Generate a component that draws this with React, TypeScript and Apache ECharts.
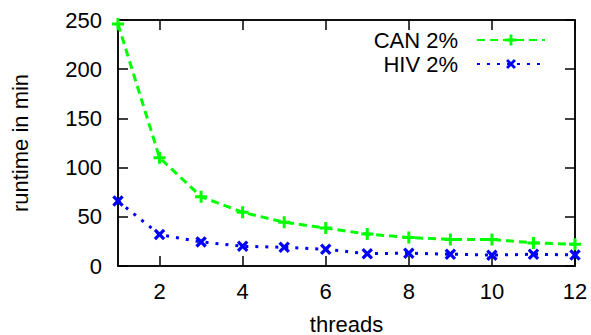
import React, { useEffect, useRef } from "react";
import * as echarts from "echarts";

const threads = ["1", "2", "3", "4", "5", "6", "7", "8", "9", "10", "11", "12"];
const can2 = [246, 110, 70.5, 54.5, 44.5, 38.5, 32.5, 29, 27, 27, 23.5, 22];
const hiv2 = [66, 32, 24.5, 20, 19, 17, 12.5, 13, 12, 11, 12, 11.2];
const yTicks = { min: 0, max: 250, interval: 50 };

const FONT = "'Liberation Sans', Arial, sans-serif";
const FS = 22;
const PLUS = "path://M3,0h2v3h3v2h-3v3h-2v-3h-3v-2h3z";

export default function App() {
  const ref = useRef<HTMLDivElement>(null);
  useEffect(() => {
    if (!ref.current) return;
    const chart = echarts.init(ref.current, undefined, { renderer: "svg" });
    const evenIdx = (i: number) => i % 2 === 1;
    const mkLine = () => ({ show: true, onZero: false, lineStyle: { color: "#000", width: 1.5 } });
    const mkTick = () => ({ show: true, inside: true, length: 10, lineStyle: { color: "#000", width: 1.5 } });
    chart.setOption({
      animation: false,
      backgroundColor: "#fff",
      textStyle: { fontFamily: FONT },
      grid: {
        left: 118,
        top: 20,
        right: 16,
        bottom: 69,
        outerBoundsMode: "none",
        show: true,
        borderColor: "#000",
        borderWidth: 1.5,
      },
      legend: {
        orient: "vertical",
        align: "right",
        right: 40,
        top: 23,
        itemWidth: 68,
        itemHeight: 14,
        itemGap: 0,
        textStyle: { fontFamily: FONT, fontSize: FS, color: "#000", lineHeight: 24, padding: [0, 14, 0, 0] },
        data: ["CAN 2%", "HIV 2%"],
      },
      xAxis: [
        {
          type: "category",
          data: threads,
          boundaryGap: false,
          position: "bottom",
          name: "threads",
          nameLocation: "middle",
          nameGap: 47,
          nameTextStyle: { fontFamily: FONT, fontSize: FS, color: "#000" },
          axisLine: mkLine(),
          axisTick: { ...mkTick(), interval: evenIdx },
          axisLabel: { interval: evenIdx, margin: 14, fontFamily: FONT, fontSize: FS, color: "#000" },
          splitLine: { show: false },
        },
        {
          type: "category",
          data: threads,
          boundaryGap: false,
          position: "top",
          axisLine: mkLine(),
          axisTick: { ...mkTick(), interval: evenIdx },
          axisLabel: { show: false },
          splitLine: { show: false },
        },
      ],
      yAxis: [
        {
          type: "value",
          ...yTicks,
          position: "left",
          name: "runtime in min",
          nameLocation: "middle",
          nameGap: 87,
          nameTextStyle: { fontFamily: FONT, fontSize: FS, color: "#000" },
          axisLine: mkLine(),
          axisTick: mkTick(),
          axisLabel: { margin: 16, fontFamily: FONT, fontSize: FS, color: "#000" },
          splitLine: { show: false },
        },
        {
          type: "value",
          ...yTicks,
          position: "right",
          axisLine: mkLine(),
          axisTick: mkTick(),
          axisLabel: { show: false },
          splitLine: { show: false },
        },
      ],
      series: [
        {
          name: "CAN 2%",
          type: "line",
          data: can2,
          symbol: PLUS,
          symbolSize: 12,
          color: "#00ff00",
          lineStyle: { color: "#00ff00", width: 3, type: [8, 5] },
          itemStyle: { color: "#00ff00" },
        },
        {
          name: "HIV 2%",
          type: "line",
          data: hiv2,
          symbol: PLUS,
          symbolSize: 13,
          symbolRotate: 45,
          color: "#0000ff",
          lineStyle: { color: "#0000ff", width: 3, type: [3, 7] },
          itemStyle: { color: "#0000ff" },
        },
      ],
    });
    return () => chart.dispose();
  }, []);
  return <div ref={ref} style={{ width: 591, height: 335, position: "absolute", left: 0, top: 0 }} />;
}
